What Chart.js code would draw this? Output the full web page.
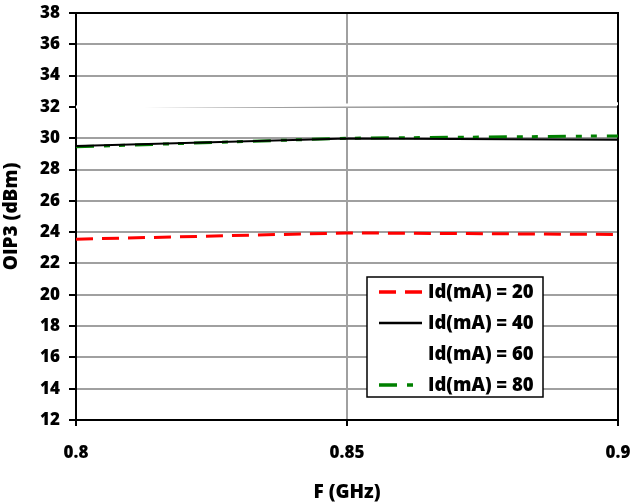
<!DOCTYPE html>
<html>
<head>
<meta charset="utf-8">
<script src="https://cdn.jsdelivr.net/npm/chart.js@4"></script>
<style>
  html, body { margin: 0; padding: 0; background: #fff; }
  #wrap { width: 631px; height: 504px; }
</style>
</head>
<body>
<div id="wrap"><canvas id="oip3Chart" width="631" height="504"></canvas></div>
<script>
// frequency points (GHz)
const freqs = [0.8, 0.85, 0.9];
// OIP3 (dBm) per drain current
const oip3Id20 = [23.55, 23.95, 23.85];
const oip3Id40 = [29.5, 29.98, 29.9];
const oip3Id60 = [32.0, 32.12, 32.2];
const oip3Id80 = [29.45, 30.0, 30.15];
const seriesLabels = ['Id(mA) = 20', 'Id(mA) = 40', 'Id(mA) = 60', 'Id(mA) = 80'];
// axis ticks
const xTicks = [0.8, 0.85, 0.9];
const yTicks = [12, 14, 16, 18, 20, 22, 24, 26, 28, 30, 32, 34, 36, 38];

const FONT = '"Open Sans", Lato, sans-serif';

function toPoints(ys) {
    return freqs.map(function (f, i) { return { x: f, y: ys[i] }; });
}

// frame around the plot area, drawn under the lines
const frame = {
    id: 'frame',
    beforeDatasetsDraw: function (chart) {
        const a = chart.chartArea;
        const ctx = chart.ctx;
        ctx.save();
        ctx.strokeStyle = '#000';
        ctx.lineWidth = 2;
        ctx.strokeRect(a.left, a.top, a.right - a.left, a.bottom - a.top);
        ctx.restore();
    }
};

// legend box inside the plot, bottom right
const boxLegend = {
    id: 'boxLegend',
    afterDraw: function (chart) {
        const a = chart.chartArea;
        const ctx = chart.ctx;
        const w = 176, h = 120;
        const x0 = a.right - 75 - w;
        const y0 = a.bottom - 23 - h;
        ctx.save();
        ctx.fillStyle = '#fff';
        ctx.fillRect(x0, y0, w, h);
        ctx.strokeStyle = '#000';
        ctx.lineWidth = 1.5;
        ctx.strokeRect(x0, y0, w, h);
        ctx.font = '800 18.5px ' + FONT;
        ctx.textBaseline = 'middle';
        chart.data.datasets.forEach(function (ds, i) {
            const y = y0 + 15 + i * 31;
            ctx.beginPath();
            ctx.strokeStyle = ds.borderColor;
            ctx.lineWidth = ds.borderWidth + 0.5;
            ctx.setLineDash(ds.borderDash || []);
            ctx.moveTo(x0 + 12, y);
            ctx.lineTo(x0 + 55, y);
            ctx.stroke();
            ctx.setLineDash([]);
            ctx.fillStyle = '#000';
            ctx.fillText(ds.label, x0 + 61, y + 1);
        });
        ctx.restore();
    }
};

new Chart(document.getElementById('oip3Chart'), {
    type: 'scatter',
    data: {
        datasets: [
            {
                label: seriesLabels[0],
                data: toPoints(oip3Id20),
                borderColor: '#ff0000',
                borderWidth: 3,
                borderDash: [17, 9]
            },
            {
                label: seriesLabels[1],
                data: toPoints(oip3Id40),
                borderColor: '#000000',
                borderWidth: 2
            },
            {
                label: seriesLabels[2],
                data: toPoints(oip3Id60),
                borderColor: '#ffffff',
                borderWidth: 3
            },
            {
                label: seriesLabels[3],
                data: toPoints(oip3Id80),
                borderColor: '#008000',
                borderWidth: 3,
                borderDash: [18, 10, 6, 9, 6, 10]
            }
        ]
    },
    options: {
        responsive: false,
        animation: false,
        showLine: true,
        pointRadius: 0,
        pointHoverRadius: 0,
        layout: { padding: { top: 13, right: 13, left: 0, bottom: 0 } },
        plugins: {
            legend: { display: false },
            tooltip: { enabled: false }
        },
        scales: {
            x: {
                type: 'linear',
                min: 0.8,
                max: 0.9,
                afterBuildTicks: function (scale) {
                    scale.ticks = xTicks.map(function (v) { return { value: v }; });
                },
                afterFit: function (scale) {
                    scale.height = 84;
                    scale.paddingLeft = 0;
                    scale.paddingRight = 0;
                },
                ticks: {
                    color: '#000',
                    font: { family: FONT, size: 17, weight: '800' },
                    padding: 17,
                    maxRotation: 0,
                    callback: function (v) { return String(Math.round(v * 100) / 100); }
                },
                grid: {
                    color: '#a0a0a0',
                    lineWidth: 2,
                    tickColor: '#000',
                    tickLength: 6
                },
                border: { display: false },
                title: {
                    display: true,
                    text: 'F (GHz)',
                    color: '#000',
                    font: { family: FONT, size: 19, weight: '800' },
                    padding: { top: 9, bottom: 0 }
                }
            },
            y: {
                min: 12,
                max: 38,
                afterBuildTicks: function (scale) {
                    scale.ticks = yTicks.map(function (v) { return { value: v }; });
                },
                afterFit: function (scale) {
                    scale.width = 76;
                    scale.paddingTop = 0;
                    scale.paddingBottom = 0;
                },
                ticks: {
                    color: '#000',
                    font: { family: FONT, size: 17, weight: '800' },
                    padding: 9
                },
                grid: {
                    color: '#a0a0a0',
                    lineWidth: 2,
                    tickColor: '#000',
                    tickLength: 7
                },
                border: { display: false },
                title: {
                    display: true,
                    text: 'OIP3 (dBm)',
                    color: '#000',
                    font: { family: FONT, size: 19, weight: '800' },
                    padding: { top: 0, bottom: 0 }
                }
            }
        }
    },
    plugins: [frame, boxLegend]
});
</script>
</body>
</html>
